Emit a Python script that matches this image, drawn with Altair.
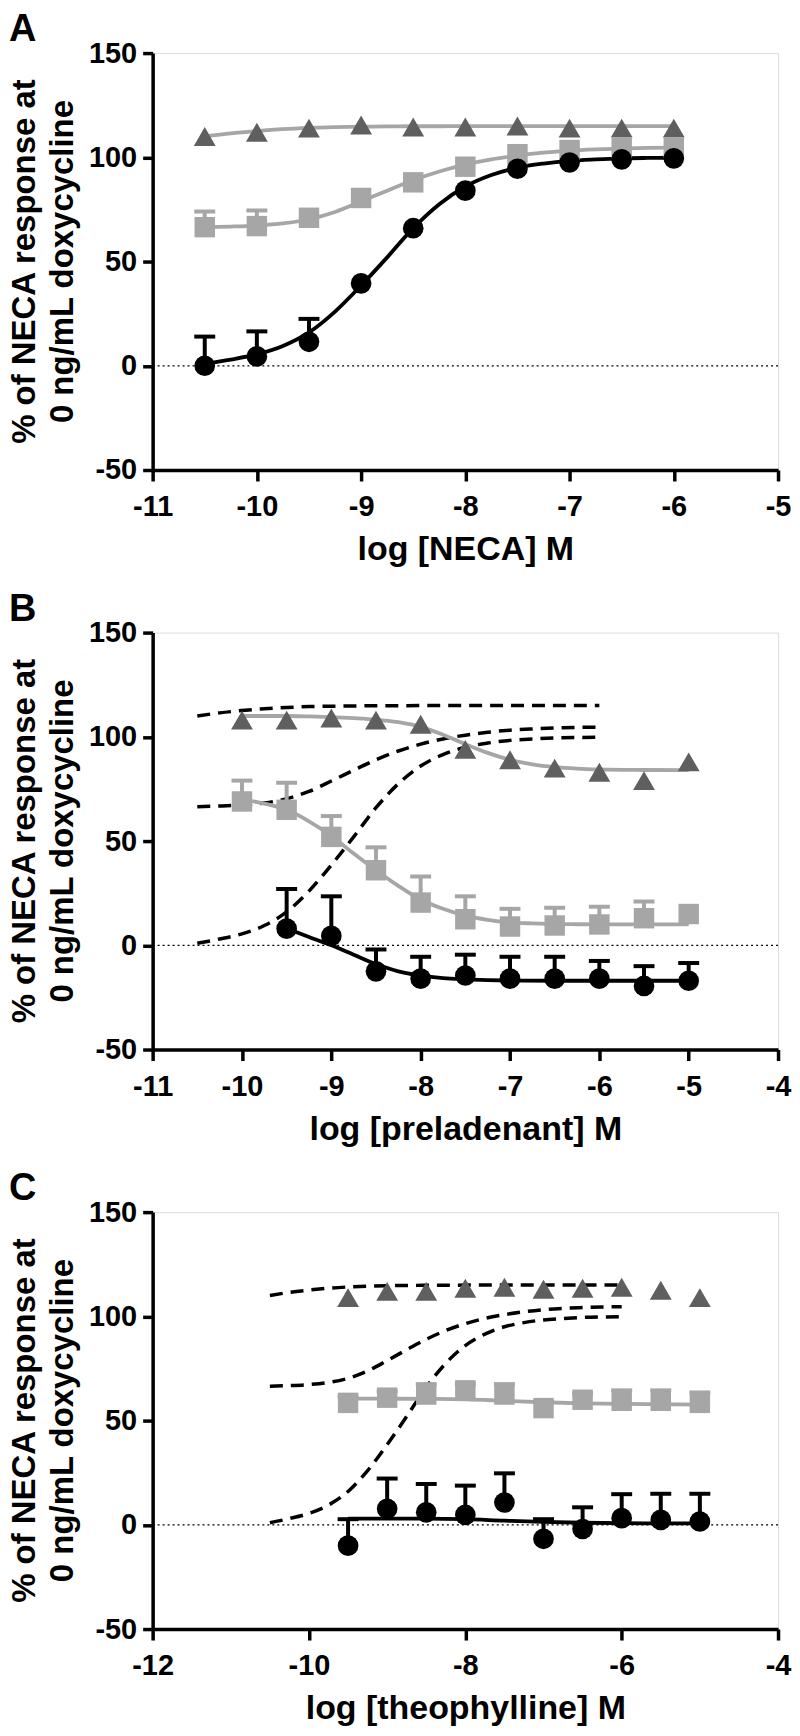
import altair as alt
import pandas as pd

FONT = "Liberation Sans, Arial, sans-serif"
BLACK = "#000000"
LIGHT = "#a6a6a6"
DARK = "#5f5f5f"

W, H = 627, 418
Y_DOMAIN = [-50, 150]
Y_TICKS = [-50, 0, 50, 100, 150]
Y_TITLE = ["% of NECA response at", "0 ng/mL doxycycline"]

# ---------------- Panel A : NECA ----------------
A_x = [-10.5, -10, -9.5, -9, -8.5, -8, -7.5, -7, -6.5, -6]
A_circle = [0, 4.5, 11.5, 39.5, 66, 84, 94.5, 97.5, 99, 99.5]
A_circle_err = [14, 12, 11, 0, 0, 0, 0, 0, 0, 0]
A_square = [66.5, 67, 71, 80.5, 88, 95.5, 101.5, 103.5, 104.5, 104.5]
A_square_err = [7.5, 7.5, 0, 0, 0, 0, 0, 0, 0, 0]
A_tri = [110, 112, 114, 115.5, 114.5, 114.5, 115, 114, 114, 114]
A_fit_x = [-10.5, -10.25, -10, -9.75, -9.5, -9.25, -9, -8.75, -8.5, -8.25,
           -8, -7.75, -7.5, -7.25, -7, -6.75, -6.5, -6.25, -6]
A_fit_circle = [1, 3, 5.5, 9.5, 16, 26, 38.5, 52, 66, 77.5,
                86, 91.5, 95, 97, 98.3, 99, 99.5, 99.7, 99.8]
A_fit_square = [66.5, 66.8, 67.3, 68.3, 70.3, 73.8, 78.8, 84, 89, 93.2,
                96.5, 99, 100.8, 102.2, 103.2, 103.8, 104.2, 104.5, 104.6]
A_fit_tri = [110, 111.5, 112.6, 113.5, 114.1, 114.5, 114.7, 114.8, 114.9, 114.9,
             115, 115, 115, 115, 115, 115, 115, 115, 115]

# ---------------- Panel B : preladenant ----------------
B_x = [-10, -9.5, -9, -8.5, -8, -7.5, -7, -6.5, -6, -5.5, -5]
B_square = [69, 65, 52, 36, 20.5, 12.5, 9, 9.5, 10, 13, 15]
B_square_err = [10, 13, 10, 11, 12.5, 11, 8.5, 8.5, 8.5, 8, 0]
B_tri = [108, 108, 109, 108, 106, 94, 89, 85, 83, 79, 88]
B_circle_x = [-9.5, -9, -8.5, -8, -7.5, -7, -6.5, -6, -5.5, -5]
B_circle = [8, 4.5, -12.5, -16, -14.5, -16, -16, -16, -19.5, -17]
B_circle_err = [19, 19, 10.5, 10.5, 10, 10.5, 10.5, 8.5, 9.5, 8.5]
B_fit_x = [-10, -9.75, -9.5, -9.25, -9, -8.75, -8.5, -8.25, -8, -7.75,
           -7.5, -7.25, -7, -6.75, -6.5, -6.25, -6, -5.5, -5]
B_fit_tri = [110, 110, 110, 109.8, 109.5, 109, 108.3, 107, 104.8, 101,
             96.5, 92.3, 89, 86.8, 85.5, 84.8, 84.4, 84.1, 84]
B_fit_square = [70, 68, 65, 59.5, 52.5, 44, 36, 28.5, 22, 17.5,
                14.2, 12.2, 11, 10.5, 10.2, 10.1, 10, 10, 10]
B_fit_circle_x = [-9.5, -9.25, -9, -8.75, -8.5, -8.25, -8, -7.75, -7.5, -7.25,
                  -7, -6.5, -6, -5.5, -5]
B_fit_circle = [8, 4, 0, -4.5, -9, -12.5, -14.5, -15.7, -16.3, -16.7,
                -16.9, -17, -17, -17, -17]

# ---------------- Panel C : theophylline ----------------
C_x = [-9.5, -9, -8.5, -8, -7.5, -7, -6.5, -6, -5.5, -5]
C_tri = [109, 112, 112, 113.5, 114, 113, 113.5, 114, 112.5, 109]
C_square = [58.5, 61, 62.5, 64.5, 62.5, 56, 60, 59.5, 59.5, 58.5]
C_square_err = [3, 3, 5, 3, 5, 3, 3, 5, 5, 5]
C_circle = [-10, 7.7, 6, 4.8, 10.7, -6.7, -2, 3.2, 2.4, 1.6]
C_circle_err = [12.7, 14.5, 13.6, 14, 14, 9.4, 10.4, 11.5, 12.5, 13.3]
C_fit_square = [60.5, 60.5, 60.4, 60.2, 59.5, 58.8, 58.3, 58, 57.8, 57.7]
C_fit_circle = [3, 3, 3, 2.7, 2, 1.4, 1, 0.8, 0.7, 0.7]


def frame(x, y, err=None):
    d = {"x": x, "y": y}
    if err is not None:
        d["err"] = err
    return pd.DataFrame(d)


def text_layer(txt, x, y, size, angle=0, align="left"):
    return alt.Chart(pd.DataFrame({"t": [txt]})).mark_text(
        font=FONT, fontSize=size, fontWeight="bold", color=BLACK,
        align=align, baseline="alphabetic", angle=angle).encode(
        x=alt.value(x), y=alt.value(y), text="t:N")


def panel(letter, xdom, xticks, xtitle, fits, errs, points, dashed):
    xs = alt.Scale(domain=xdom, nice=False, zero=False)
    ys = alt.Scale(domain=Y_DOMAIN, nice=False, zero=False)
    xax = alt.Axis(values=xticks, title=xtitle, labelExpr="toString(datum.value)",
                   grid=False, domainColor=BLACK, domainWidth=3.5, tickColor=BLACK,
                   tickWidth=3.5, tickSize=11, labelFont=FONT, labelFontSize=29,
                   labelFontWeight="bold", labelColor=BLACK, labelPadding=12,
                   labelFlush=False, labelOverlap=False,
                   titleFont=FONT, titleFontSize=34, titleFontWeight="bold",
                   titleColor=BLACK, titlePadding=11)
    yax = alt.Axis(values=Y_TICKS, title=None, labelExpr="toString(datum.value)",
                   grid=False, domainColor=BLACK, domainWidth=3.5, tickColor=BLACK,
                   tickWidth=3.5, tickSize=10, labelFont=FONT, labelFontSize=29,
                   labelFontWeight="bold", labelColor=BLACK, labelPadding=6,
                   labelFlush=False, labelOverlap=False)
    X = alt.X("x:Q", scale=xs, axis=xax)
    Y = alt.Y("y:Q", scale=ys, axis=yax)

    layers = []
    zero = alt.Chart(pd.DataFrame({"y": [0]})).mark_rule(
        color=BLACK, strokeWidth=1.3, strokeDash=[2, 3]).encode(y=Y)
    layers.append(zero)

    for dx, dy in dashed:
        layers.append(alt.Chart(frame(dx, dy)).mark_line(
            color=BLACK, strokeWidth=3.5, strokeDash=[13, 8], interpolate="monotone"
        ).encode(x=X, y=Y))

    for fx, fy, col in fits:
        layers.append(alt.Chart(frame(fx, fy)).mark_line(
            color=col, strokeWidth=3.8, interpolate="monotone").encode(x=X, y=Y))

    for ex, ey, ee, col in errs:
        df = frame(ex, ey, ee)
        df = df[df["err"] > 0]
        base = alt.Chart(df).transform_calculate(top="datum.y + datum.err")
        layers.append(base.mark_rule(color=col, strokeWidth=4).encode(
            x=X, y=Y, y2="top:Q"))
        layers.append(base.mark_tick(color=col, orient="horizontal", size=21,
                                     thickness=4, opacity=1).encode(
            x=X, y=alt.Y("top:Q", scale=ys, axis=yax)))

    for px, py, shape, col, size in points:
        layers.append(alt.Chart(frame(px, py)).mark_point(
            shape=shape, filled=True, color=col, size=size, opacity=1,
            strokeWidth=0).encode(x=X, y=Y))

    # two-line y title (as two rotated single-line texts) and panel letter
    layers.append(text_layer(Y_TITLE[0], -118, H / 2, 33, angle=270, align="center"))
    layers.append(text_layer(Y_TITLE[1], -80, H / 2, 33, angle=270, align="center"))
    layers.append(text_layer(letter, -144, -12, 38))

    return alt.layer(*layers).properties(width=W, height=H)


A = panel(
    "A", [-11, -5], [-11, -10, -9, -8, -7, -6, -5], "log [NECA] M",
    fits=[(A_fit_x, A_fit_tri, LIGHT), (A_fit_x, A_fit_square, LIGHT),
          (A_fit_x, A_fit_circle, BLACK)],
    errs=[(A_x, A_square, A_square_err, LIGHT), (A_x, A_circle, A_circle_err, BLACK)],
    points=[(A_x, A_tri, "triangle-up", DARK, 480),
            (A_x, A_square, "square", LIGHT, 420),
            (A_x, A_circle, "circle", BLACK, 430)],
    dashed=[],
)

REF = [(A_fit_x, A_fit_tri), (A_fit_x, A_fit_square), (A_fit_x, A_fit_circle)]

B = panel(
    "B", [-11, -4], [-11, -10, -9, -8, -7, -6, -5, -4], "log [preladenant] M",
    fits=[(B_fit_x, B_fit_tri, LIGHT), (B_fit_x, B_fit_square, LIGHT),
          (B_fit_circle_x, B_fit_circle, BLACK)],
    errs=[(B_x, B_square, B_square_err, LIGHT),
          (B_circle_x, B_circle, B_circle_err, BLACK)],
    points=[(B_x, B_tri, "triangle-up", DARK, 480),
            (B_x, B_square, "square", LIGHT, 420),
            (B_circle_x, B_circle, "circle", BLACK, 430)],
    dashed=REF,
)

C = panel(
    "C", [-12, -4], [-12, -10, -8, -6, -4], "log [theophylline] M",
    fits=[(C_x, C_fit_square, LIGHT), (C_x, C_fit_circle, BLACK)],
    errs=[(C_x, C_square, C_square_err, LIGHT), (C_x, C_circle, C_circle_err, BLACK)],
    points=[(C_x, C_tri, "triangle-up", DARK, 480),
            (C_x, C_square, "square", LIGHT, 420),
            (C_x, C_circle, "circle", BLACK, 430)],
    dashed=REF,
)

chart = alt.vconcat(A, B, C, spacing=22).properties(
    padding={"left": 0, "top": 0, "right": 0, "bottom": 0}
).configure_view(stroke=None).configure(background="white")

chart.save("out.html", embed_options={"renderer": "svg", "actions": False})
